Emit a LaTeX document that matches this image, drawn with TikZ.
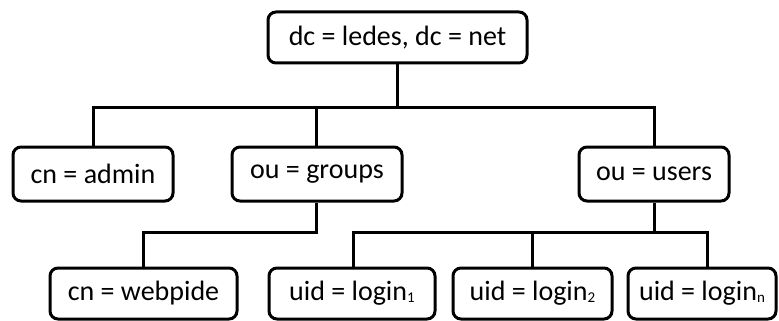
\documentclass[tikz,border=0pt]{standalone}
\usepackage{fontspec}
\setmainfont{Carlito}
\newcommand{\sbs}[1]{\raisebox{-1.5pt}{\fontsize{15}{15}\selectfont #1}}
\begin{document}
\begin{tikzpicture}[x=1pt,y=-1pt,
  box/.style={draw=black, line width=3pt, rounded corners=8pt, fill=white,
    inner sep=0pt, minimum height=51pt, font=\fontsize{28}{30}\selectfont},
  conn/.style={draw=black, line width=3pt}]
\useasboundingbox (0,0) rectangle (779,321);
\node[box, minimum width=259pt] (root) at (397.5,37.5) {dc = ledes, dc = net};
\node[box, minimum width=160pt, minimum height=54pt] (admin) at (93,174) {cn = admin};
\node[box, minimum width=170pt, minimum height=54pt] (groups) at (317,174) {ou = groups};
\node[box, minimum width=150pt, minimum height=54pt] (users) at (654,174) {ou = users};
\node[box, minimum width=187pt] (webpide) at (143.5,293.5) {cn = webpide};
\node[box, minimum width=166pt] (login1) at (352,293.5) {uid = login\sbs{1}};
\node[box, minimum width=159pt] (login2) at (532.5,293.5) {uid = login\sbs{2}};
\node[box, minimum width=148pt] (loginn) at (702,293.5) {uid = login\sbs{n}};
\coordinate (bus) at (0,107);
\coordinate (bustwo) at (0,232);
\draw[conn] (root.south) -- (root.south |- bus);
\draw[conn] (admin.north) -- (admin.north |- bus) -- (users.north |- bus) -- (users.north);
\draw[conn] ([xshift=-1pt]groups.north) -- ([xshift=-1pt]groups.north |- bus);
\draw[conn] ([xshift=-1pt]groups.south) -- ([xshift=-1pt]groups.south |- bustwo) -- (webpide.north |- bustwo) -- (webpide.north);
\draw[conn] (users.south) -- (users.south |- bustwo);
\draw[conn] ([xshift=1pt]login1.north) -- ([xshift=1pt]login1.north |- bustwo) -- ([xshift=5pt]loginn.north |- bustwo) -- ([xshift=5pt]loginn.north);
\draw[conn] (login2.north) -- (login2.north |- bustwo);
\end{tikzpicture}
\end{document}
